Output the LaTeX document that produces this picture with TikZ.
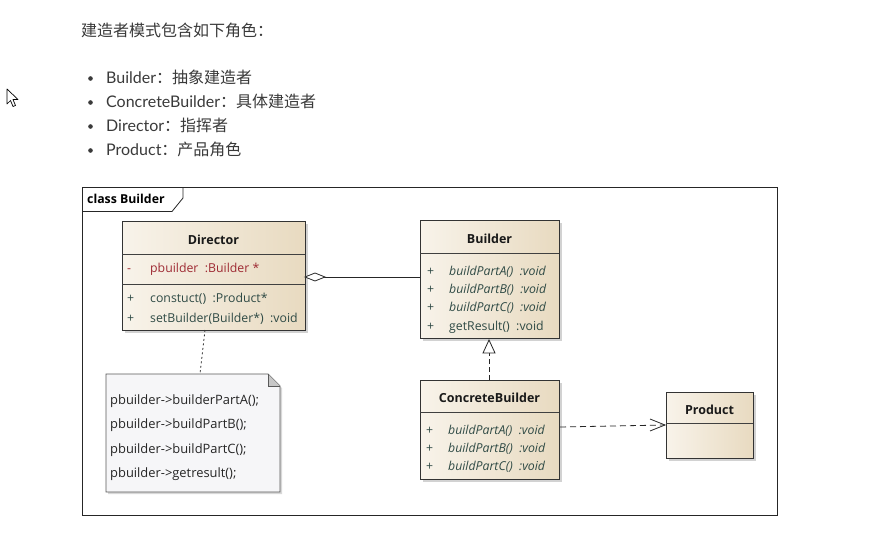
\documentclass[tikz,border=0pt]{standalone}
\usepackage{fontspec}
\setmainfont{Lato}
\newfontfamily\cjk{Noto Sans CJK SC}
\newfontfamily\uml{Open Sans}
\usetikzlibrary{shadows,arrows.meta}
\definecolor{txt}{HTML}{3A3A3A}
\definecolor{cA}{HTML}{F8F3EA}
\definecolor{cB}{HTML}{E8DAC0}
\definecolor{attr}{HTML}{9E2A33}
\definecolor{oper}{HTML}{2F4A45}
\definecolor{notebg}{HTML}{F6F6F8}
\tikzset{
  cls/.style={draw=black!80, line width=0.8pt, left color=cA, right color=cB,
    anchor=north west, inner sep=0pt, drop shadow={shadow xshift=2.5pt, shadow yshift=-2.5pt, opacity=0.35}},
  sep/.style={draw=black!75, line width=0.7pt},
  title/.style={font=\uml\fontsize{12.5}{14}\selectfont\bfseries, text=black!90, anchor=base, inner sep=0pt},
  row/.style={font=\uml\fontsize{12.3}{14}\selectfont, text=oper, anchor=base west, inner sep=0pt},
  irow/.style={row, font=\uml\fontsize{12.3}{14}\selectfont\itshape},
  arow/.style={row, text=attr},
  notetxt/.style={font=\uml\fontsize{12.9}{14}\selectfont, text=black!85, anchor=base west, inner sep=0pt},
  top/.style={text=txt, anchor=base west, inner sep=0pt},
}
\begin{document}
\begin{tikzpicture}[x=1pt,y=-1pt]
\useasboundingbox[fill=white] (0,0) rectangle (875,538);
% heading and list
\node[top, font=\cjk\fontsize{16}{18}\selectfont] (head) at (81,36.5) {建造者模式包含如下角色：};
\foreach \yy/\nm/\a/\b in {83/l1/Builder/抽象建造者,107/l2/ConcreteBuilder/具体建造者,131/l3/Director/指挥者,155/l4/Product/产品角色}{
  \fill[txt] (90.5,\yy-4.5) circle (2.3pt);
  \node[top, font=\fontsize{16}{18}\selectfont] (\nm) at (106,\yy) {\a{\cjk ：\b}};
}
% cursor
\draw[line width=0.7pt, fill=white, line join=round] (7,89) -- (7,104) -- (10.5,100.5) -- (13,106.5) -- (15.5,105.5) -- (13,99.5) -- (18,99.5) -- cycle;
% frame
\node[draw=black!85, line width=0.8pt, anchor=north west, minimum width=695pt, minimum height=328pt, inner sep=0pt] (frame) at (82,187) {};
\draw[black!85, line width=0.8pt] (82,211.5) -- (172,211.5) -- (183,198) -- (183,187);
\node[font=\uml\fontsize{12.3}{14}\selectfont\bfseries, anchor=base west, inner sep=0pt] (ftitle) at (87,203.5) {class Builder};
% Director
\node[cls, minimum width=183pt, minimum height=109pt] (dir) at (122,221) {};
\draw[sep] (122,254) -- (305,254);
\draw[sep] (122,284) -- (305,284);
\node[title] (dirT) at (213.5,244.5) {Director};
\node[arow] (dirA0) at (127,272) {-};
\node[arow] (dirA) at (150,272) {pbuilder\ \ :Builder *};
\node[row] (dirO0) at (127,302) {+};
\node[row] (dirO1) at (150,302) {constuct()\ \ :Product*};
\node[row] (dirP0) at (127,322) {+};
\node[row] (dirO2) at (150,322) {setBuilder(Builder*)\ \ :void};
% Builder
\node[cls, minimum width=139pt, minimum height=118pt] (bld) at (420,220) {};
\draw[sep] (420,253) -- (559,253);
\node[title] (bldT) at (489.5,243.5) {Builder};
\foreach \yy/\nm/\t in {275/bA/buildPartA(),293/bB/buildPartB(),311/bC/buildPartC()}{
  \node[row] (\nm0) at (427,\yy) {+};
  \node[irow] (\nm) at (449,\yy) {\t\ \ :void};
}
\node[row] (bD0) at (427,330) {+};
\node[row] (bD) at (449,330) {getResult()\ \ :void};
% ConcreteBuilder
\node[cls, minimum width=139pt, minimum height=99pt] (cb) at (420,380) {};
\draw[sep] (420,412) -- (559,412);
\node[title] (cbT) at (489.5,402.5) {ConcreteBuilder};
\foreach \yy/\nm/\t in {434/cA1/buildPartA(),452/cB1/buildPartB(),470/cC1/buildPartC()}{
  \node[row] (\nm0) at (426,\yy) {+};
  \node[irow] (\nm) at (448,\yy) {\t\ \ :void};
}
% Product
\node[cls, minimum width=87pt, minimum height=66pt] (prod) at (666,392) {};
\draw[sep] (666,423) -- (753,423);
\node[title] (prodT) at (709.5,414.5) {Product};
% Note
\draw[black!65, line width=0.8pt, fill=notebg, drop shadow={shadow xshift=2pt, shadow yshift=-2pt, opacity=0.3}]
  (106,374) -- (268,374) -- (280,386) -- (280,492) -- (106,492) -- cycle;
\fill[black!22] (268,374) -- (280,386) -- (268,386) -- cycle;
\draw[black!65, line width=0.8pt] (268,374) -- (268,386) -- (280,386);
\coordinate (noteTop) at (200,374);
\node[notetxt] (n1) at (110,404) {pbuilder->builderPartA();};
\node[notetxt] (n2) at (110,428) {pbuilder->buildPartB();};
\node[notetxt] (n3) at (110,453) {pbuilder->buildPartC();};
\node[notetxt] (n4) at (110,477) {pbuilder->getresult();};
% connectors
\coordinate (dirBot) at (205,330);
\draw[black!80, line width=0.8pt, dash pattern=on 2pt off 2.5pt] (dirBot) -- (noteTop);
\coordinate (aggS) at (305,277);
\coordinate (aggE) at (420,277);
\draw[black!85, line width=0.8pt] (aggE) -- (aggS);
\draw[black!85, line width=0.8pt, fill=white] (305,277) -- (315,273) -- (325,277) -- (315,281) -- cycle;
\coordinate (realTip) at (489,340);
\coordinate (realS) at (489,380);
\draw[black!85, line width=0.8pt, dash pattern=on 5pt off 3pt] (realS) -- (489,353);
\draw[black!85, line width=0.8pt, fill=white] (realTip) -- (495,353) -- (483,353) -- cycle;
\coordinate (depS) at (560,427);
\coordinate (depE) at (665,425);
\draw[black!85, line width=0.8pt, dash pattern=on 6pt off 4pt] (depS) -- (depE);
\draw[black!85, line width=0.8pt] (650,419) -- (665,425) -- (650,431);
\end{tikzpicture}
\end{document}
